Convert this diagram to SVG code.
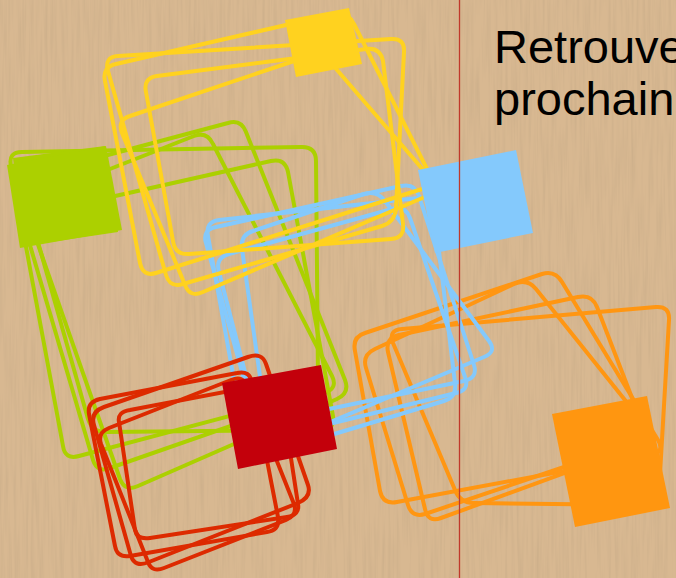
<svg xmlns="http://www.w3.org/2000/svg" width="676" height="578" viewBox="0 0 676 578">
<defs>
<filter id="grain" x="0" y="0" width="676" height="578" filterUnits="userSpaceOnUse">
<feTurbulence type="fractalNoise" baseFrequency="0.35 0.015" numOctaves="2" seed="7"/>
<feColorMatrix values="0 0 0 0 0.45  0 0 0 0 0.33  0 0 0 0 0.2  0.55 0 0 0 -0.22"/>
</filter>
<style>
.o{fill:none;stroke-width:4;stroke-linejoin:round}
.y{stroke:#ffd21f}.g{stroke:#acd000}.b{stroke:#84c9fc}.r{stroke:#dd2a00}.n{stroke:#ff9612}
.txt{font-family:"Liberation Sans",Arial,sans-serif;font-size:47px;fill:#000}
</style>
</defs>
<rect width="676" height="578" fill="#d8b891"/>
<rect width="676" height="578" filter="url(#grain)"/>

<g id="green-frames" class="o g">
<path d="M22,152 L302,147 Q316,147 316,161 L318,378 Q318,392 305,396 L79,456 Q65,460 63,446 L11,166 Q8,152 22,152Z"/>
<path d="M29,176 L228,123 Q241,119 246,132 L345,380 Q350,393 337,399 L138,486 Q125,492 120,479 L20,193 Q15,180 29,176Z"/>
<path d="M31,200 L194,136 Q207,131 213,144 L332,376 Q338,388 325,393 L110,468 Q97,473 93,460 L22,218 Q18,205 31,200Z"/>
<path d="M44,212 L271,161 Q285,158 288,172 L333,416 Q335,430 321,430 L106,432 Q92,432 88,419 L34,228 Q30,215 44,212Z"/>
</g>

<g id="orange-frames" class="o n">
<path d="M365,333 L542,274 Q555,270 562,282 L658,440 Q665,452 651,455 L397,502 Q383,505 380,491 L355,351 Q352,337 365,333Z"/>
<path d="M402,329 L656,307 Q670,306 669,320 L659,491 Q658,505 644,505 L474,503 Q460,503 455,490 L393,343 Q388,330 402,329Z"/>
<path d="M375,349 L514,284 Q527,278 536,289 L645,425 Q654,436 641,441 L425,514 Q412,518 408,505 L366,368 Q362,355 375,349Z"/>
<path d="M399,335 L578,297 Q592,294 597,307 L644,429 Q649,442 636,447 L441,518 Q428,523 425,509 L388,352 Q385,338 399,335Z"/>
</g>

<g id="blue-frames" class="o b">
<path d="M253,231 L364,194 Q377,190 385,201 L489,341 Q497,352 484,357 L283,442 Q270,447 268,433 L242,249 Q240,235 253,231Z"/>
<path d="M216,227 L401,186 Q415,183 419,196 L474,365 Q478,378 464,381 L271,421 Q257,424 253,411 L206,243 Q202,230 216,227Z"/>
<path d="M219,220 L418,198 Q432,196 434,210 L455,383 Q457,397 444,401 L261,456 Q248,460 246,446 L208,236 Q205,222 219,220Z"/>
<path d="M229,254 L392,209 Q405,205 410,218 L465,377 Q470,390 456,393 L276,437 Q262,440 259,426 L219,272 Q215,258 229,254Z"/>
</g>

<g id="yellow-frames" class="o y">
<path d="M116,64 L334,14 Q348,11 354,24 L429,173 Q435,185 422,189 L156,273 Q143,277 140,263 L105,81 Q102,67 116,64Z"/>
<path d="M118,56 L391,39 Q405,38 404,52 L396,208 Q395,222 382,226 L183,284 Q170,288 166,275 L108,71 Q104,57 118,56Z"/>
<path d="M157,76 L366,49 Q380,47 383,61 L403,224 Q405,238 391,239 L189,254 Q175,255 173,241 L146,92 Q143,78 157,76Z"/>
<path d="M130,116 L309,56 Q322,52 331,63 L431,179 Q440,190 427,196 L203,292 Q190,298 185,285 L122,133 Q117,120 130,116Z"/>
</g>

<g id="red-frames" class="o r">
<path d="M130,410 L266,384 Q279,382 281,393 L298,504 Q300,515 287,517 L150,538 Q137,540 135,530 L119,422 Q117,412 130,410Z"/>
<path d="M100,399 L237,373 Q250,370 252,383 L278,517 Q280,530 267,532 L130,556 Q117,558 115,546 L89,414 Q87,402 100,399Z"/>
<path d="M109,428 L231,380 Q243,375 247,386 L294,504 Q298,515 286,520 L164,568 Q152,573 148,562 L101,444 Q97,433 109,428Z"/>
<path d="M104,407 L248,357 Q262,352 266,364 L308,485 Q312,497 298,503 L149,562 Q135,568 131,556 L94,425 Q90,412 104,407Z"/>
</g>

<g id="yellow-square"><polygon points="285,20 349,8 362,64 296,77" fill="#ffd21f"/></g>
<g id="green-square">
<polygon points="13,158 105,146 118,232 24,246" fill="#acd000"/>
<polygon points="7,165 106,146 122,230 20,248" fill="#acd000"/>
</g>
<g id="blue-square"><polygon points="418,170 516,150 533,233 435,253" fill="#84c9fc"/></g>
<g id="orange-square"><polygon points="552,414 647,396 670,508 575,527" fill="#ff9610"/></g>
<g id="red-square"><polygon points="222,383 321,365 337,449 238,469" fill="#c3000b"/></g>

<line x1="459.5" y1="0" x2="459.5" y2="578" stroke="#c0392b" stroke-width="1.3"/>

<text class="txt" x="494" y="63">Retrouve</text>
<text class="txt" x="494" y="115">prochain</text>
</svg>
